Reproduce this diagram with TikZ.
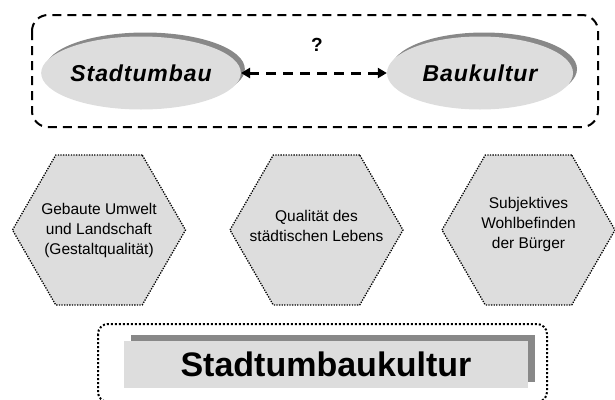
\documentclass[tikz,border=0pt]{standalone}
\usepackage{fontspec}
\setmainfont{Liberation Sans}
\usetikzlibrary{arrows.meta,shapes,shadows}
\definecolor{lightfill}{HTML}{DDDDDD}
\definecolor{shadowfill}{HTML}{888888}
\tikzset{
  oval/.style = {ellipse, fill=lightfill, minimum width=186pt, minimum height=73pt, inner sep=0pt,
    copy shadow={shadow xshift=4pt, shadow yshift=4pt, fill=shadowfill, draw=none},
    font=\fontsize{23}{27}\selectfont\bfseries\itshape\addfontfeatures{LetterSpace=4}},
  hexa/.style = {regular polygon, regular polygon sides=6, minimum size=173pt, inner sep=0pt,
    fill=lightfill, draw, line width=1.3pt, dash pattern=on 1.3pt off 1.3pt},
  hextext/.style = {align=center, inner sep=0pt, font=\fontsize{15.5}{20}\selectfont},
  banner/.style = {fill=lightfill, minimum width=404pt, minimum height=47pt, inner sep=0pt,
    copy shadow={shadow xshift=7pt, shadow yshift=6pt, fill=shadowfill, draw=none},
    font=\fontsize{34}{40}\selectfont\bfseries}
}

\begin{document}
\begin{tikzpicture}[x = 1pt, y = -1pt]
\useasboundingbox (0, 0) rectangle (615, 399);

% question: Stadtumbau <-> Baukultur
\draw[line width=2pt, dash pattern=on 9pt off 6pt, rounded corners=16pt] (32, 15) rectangle (598, 127);
\node[oval] (stadt) at (141, 73) {Stadtumbau};
\node[oval] (bau) at (480, 73) {Baukultur};
\node[font=\fontsize{19}{22}\selectfont\bfseries] (q) at (317, 45) {?};

\draw[{Triangle[length=9pt, width=10pt]}-{Triangle[length=9pt, width=10pt]}, line width=3pt, dash pattern=on 10pt off 7pt] (stadt) -- (bau);

% three dimensions
\node[hexa] (gebaut) at (99, 230) {};
\node[hexa] (leben) at (316.5, 230) {};
\node[hexa] (buerger) at (528.5, 230) {};
\node[hextext] (gebaut-txt) at (gebaut) {Gebaute Umwelt\\und Landschaft\\(Gestaltqualit\"at)};
\node[hextext] (leben-txt) at ([yshift=4pt]leben) {Qualit\"at des\\st\"adtischen Lebens};
\node[hextext] (buerger-txt) at ([yshift=6pt]buerger) {Subjektives\\Wohlbefinden\\der B\"urger};

% result
\draw[line width=2pt, dash pattern=on 2pt off 2pt, rounded corners=10pt] (98, 324) rectangle (547, 402);
\node[banner] (stk) at (326, 364.5) {Stadtumbaukultur};

\end{tikzpicture}
\end{document}
